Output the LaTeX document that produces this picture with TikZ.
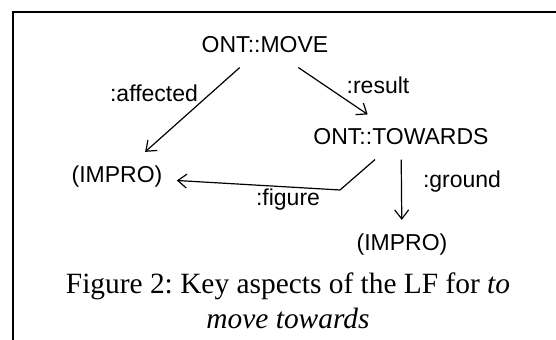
\documentclass[tikz,border=0pt]{standalone}
\usepackage{fontspec}
\setmainfont{Liberation Serif}
\setsansfont{Liberation Sans}
\usetikzlibrary{arrows.meta}
\frenchspacing
\tikzset{
	ont/.style={rectangle,inner sep=7pt,font=\sffamily\fontsize{11.5}{13}\selectfont},
	rel/.style={rectangle,inner sep=0pt,font=\sffamily\fontsize{11.5}{13}\selectfont},
	link/.style={line width=0.6pt,-{Straight Barb[length=4.5pt,width=7pt]}}
}
\begin{document}
\begin{tikzpicture}[x=0.5pt,y=-0.5pt]
	\useasboundingbox (0,0) rectangle (556,340);
	% Frame
	\draw [line width=0.8pt] (556,12) -- (13,12) -- (13,340);
	% Place nodes
	\node [ont] (move) at (265,45) {ONT::MOVE};
	\node [ont] (towards) at (401,137) {ONT::TOWARDS};
	\node [ont] (impro1) at (117,177) {(IMPRO)};
	\node [ont] (impro2) at (402,245) {(IMPRO)};
	\coordinate (bend) at (340,190);
	% Links
	\draw [link] (move) -- (impro1);
	\draw [link] (move) -- (towards);
	\draw [link] (towards) -- (bend) -- (impro1);
	\draw [link] (towards) -- (impro2);
	\node [rel] (affected) at (154,93) {:affected};
	\node [rel] (result) at (378,85) {:result};
	\node [rel] (figure) at (288,200) {:figure};
	\node [rel] (ground) at (462,182) {:ground};
	% Caption
	\node [align=center,font=\fontsize{14.7}{17.5}\selectfont] (caption) at (288,301) {Figure 2: Key aspects of the LF for \textit{to}\\\textit{move towards}};
\end{tikzpicture}
\end{document}
